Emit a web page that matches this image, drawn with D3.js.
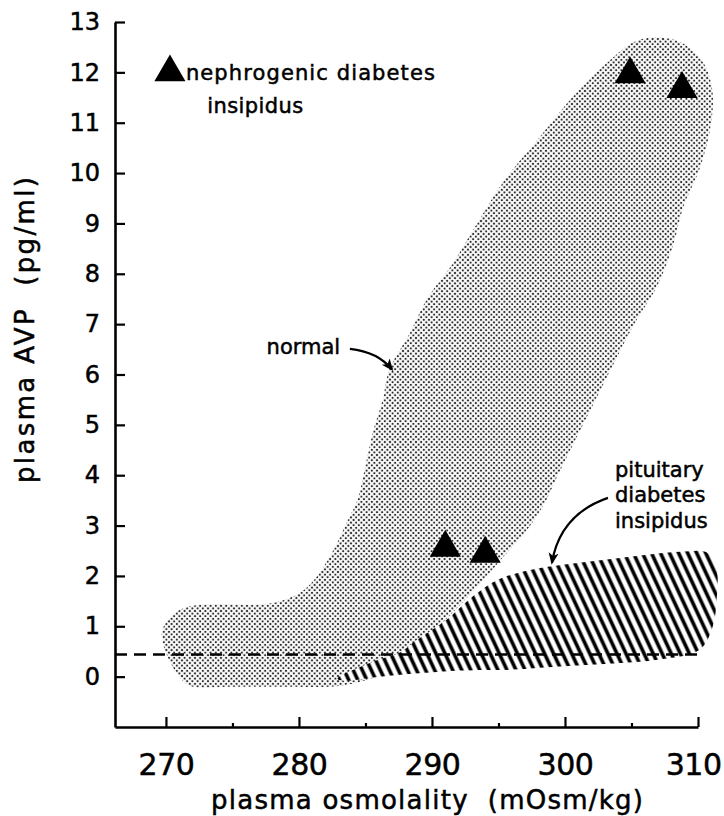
<!DOCTYPE html>
<html>
<head>
<meta charset="utf-8">
<script src="https://cdn.jsdelivr.net/npm/d3@7"></script>
<style>
body { margin: 0; background: #fff; }
svg text { font-family: "DejaVu Sans", sans-serif; fill: #000; stroke: #000; stroke-width: 0.5px; }
</style>
</head>
<body>
<div id="chart"></div>
<script>
// Tick values
var xTicks = [270, 280, 290, 300, 310];
var xMinorTicks = [275, 285, 295, 305];
var yTicks = [0, 1, 2, 3, 4, 5, 6, 7, 8, 9, 10, 11, 12, 13];

// Outline of the normal range (osmolality, AVP)
var normalRegion = [
  [305.6, 12.65], [308.6, 12.61], [310.4, 12.19], [311.1, 11.60], [310.9, 10.86],
  [310.1, 10.07], [308.9, 9.33], [308.1, 8.54], [306.9, 7.74], [305.4, 7.09],
  [303.8, 6.29], [302.3, 5.50], [300.8, 4.71], [299.3, 3.91], [298.5, 3.46],
  [297.0, 2.86], [295.5, 2.42], [294.1, 1.99], [291.4, 1.23], [288.7, 0.54],
  [286.1, 0.04], [283.1, -0.18], [279.3, -0.20], [274.8, -0.20], [271.8, -0.18],
  [270.9, 0.04], [269.9, 0.54], [269.7, 0.89], [270.15, 1.13], [271.05, 1.33],
  [272.6, 1.43], [276.3, 1.43], [278.2, 1.47], [280.1, 1.67], [281.35, 1.99],
  [282.3, 2.38], [283.1, 2.78], [283.7, 3.12], [284.4, 3.51], [285.1, 4.31],
  [285.6, 4.90], [286.3, 5.50], [286.8, 6.10], [288.35, 6.83], [289.6, 7.49],
  [291.5, 8.18], [293.46, 9.03], [295.49, 9.87], [298.12, 10.72], [300.6, 11.52],
  [303.16, 12.19]
];

// Outline of pituitary diabetes insipidus
var pituitaryRegion = [
  [282.9, -0.04], [285.6, 0.30], [287.6, 0.48], [288.6, 0.68], [291.1, 1.13],
  [293.2, 1.62], [295.0, 1.93], [297.4, 2.12], [301.1, 2.26], [304.9, 2.38],
  [308.65, 2.48], [310.7, 2.46], [311.4, 2.12], [311.4, 1.53], [311.1, 0.99],
  [310.15, 0.54], [307.1, 0.34], [303.6, 0.26], [299.6, 0.20], [296.1, 0.14],
  [292.1, 0.12], [286.1, 0.00], [283.5, -0.08]
];

// Nephrogenic diabetes insipidus patients
var nephrogenic = [[291.0, 2.56], [294.0, 2.44], [304.9, 11.96], [308.8, 11.67]];
var legendPoint = [270.3, 12.0];

// Detection limit
var detectionLimit = 0.44;

var W = 724, H = 816;

var x = d3.scaleLinear().domain([266.17, 310]).range([115, 698]);
var y = d3.scaleLinear().domain([-1, 13]).range([727, 22]);

var svg = d3.select("#chart").append("svg")
  .attr("width", W)
  .attr("height", H);

var defs = svg.append("defs");

// stipple pattern
var dots = defs.append("pattern")
  .attr("id", "stipple")
  .attr("patternUnits", "userSpaceOnUse")
  .attr("width", 5.2)
  .attr("height", 5.2);
[[0, 0], [5.2, 0], [0, 5.2], [5.2, 5.2], [2.6, 2.6]].forEach(function(p) {
  dots.append("circle")
    .attr("cx", p[0]).attr("cy", p[1])
    .attr("r", 1.12)
    .attr("fill", "#2a2a2a");
});

// hatch pattern
var hatch = defs.append("pattern")
  .attr("id", "hatch")
  .attr("patternUnits", "userSpaceOnUse")
  .attr("width", 8.2)
  .attr("height", 8.2)
  .attr("patternTransform", "rotate(-25)");
hatch.append("rect").attr("width", 8.2).attr("height", 8.2).attr("fill", "#fff");
hatch.append("line")
  .attr("x1", 4.1).attr("y1", -1).attr("x2", 4.1).attr("y2", 9.2)
  .attr("stroke", "#000").attr("stroke-width", 3.6);

// arrowhead
defs.append("marker")
  .attr("id", "arrow")
  .attr("markerUnits", "userSpaceOnUse")
  .attr("viewBox", "0 0 12 12")
  .attr("refX", 10).attr("refY", 6)
  .attr("markerWidth", 12).attr("markerHeight", 12)
  .attr("orient", "auto")
  .append("path")
  .attr("d", "M0,1L12,6L0,11L3,6Z")
  .attr("fill", "#000");

var area = d3.line()
  .x(function(d) { return x(d[0]); })
  .y(function(d) { return y(d[1]); })
  .curve(d3.curveCatmullRomClosed.alpha(0.5));

// normal range
svg.append("path")
  .attr("d", area(normalRegion))
  .attr("fill", "url(#stipple)");

// pituitary DI
svg.append("path")
  .attr("d", area(pituitaryRegion))
  .attr("fill", "url(#hatch)");

// dashed detection line
svg.append("line")
  .attr("x1", x(266.17)).attr("x2", x(310.1))
  .attr("y1", y(detectionLimit)).attr("y2", y(detectionLimit))
  .attr("stroke", "#000")
  .attr("stroke-width", 2.4)
  .attr("stroke-dasharray", "12,7");

// triangles
var tri = d3.symbol().type(d3.symbolTriangle).size(420);
svg.selectAll(".tri")
  .data(nephrogenic)
  .enter().append("path")
  .attr("class", "tri")
  .attr("d", tri)
  .attr("transform", function(d) { return "translate(" + x(d[0]) + "," + y(d[1]) + ")"; })
  .attr("fill", "#000");

// Axes
var xAxis = svg.append("g")
  .attr("transform", "translate(0," + y(-1) + ")")
  .call(d3.axisBottom(x).tickValues(xTicks).tickSize(-10).tickSizeOuter(0).tickPadding(27));
svg.append("g")
  .attr("transform", "translate(0," + y(-1) + ")")
  .call(d3.axisBottom(x).tickValues(xMinorTicks).tickSize(-4).tickSizeOuter(0).tickFormat(""))
  .select(".domain").remove();
var yAxis = svg.append("g")
  .attr("transform", "translate(" + x(266.17) + ",0)")
  .call(d3.axisLeft(y).tickValues(yTicks).tickSize(-10).tickSizeOuter(0).tickPadding(15));

svg.selectAll(".domain").attr("stroke-width", 2.6);
svg.selectAll(".tick line").attr("stroke-width", 2.2);
xAxis.selectAll("text").attr("font-size", 30).attr("letter-spacing", -0.5).style("font-family", "DejaVu Sans");
// last label sits against the right edge
xAxis.selectAll("text").filter(function(d) { return d === 310; })
  .attr("text-anchor", "end").attr("dx", 23);
yAxis.selectAll("text").attr("font-size", 24).style("font-family", "DejaVu Sans");

// axis titles
svg.append("text")
  .attr("x", 427).attr("y", 809)
  .attr("text-anchor", "middle")
  .attr("font-size", 26)
  .attr("textLength", 432)
  .attr("lengthAdjust", "spacing")
  .style("white-space", "pre")
  .text("plasma osmolality  (mOsm/kg)");

svg.append("text")
  .attr("transform", "translate(34,330) rotate(-90)")
  .attr("text-anchor", "middle")
  .attr("font-size", 26)
  .attr("textLength", 306)
  .attr("lengthAdjust", "spacing")
  .style("white-space", "pre")
  .text("plasma AVP  (pg/ml)");

// legend
svg.append("path")
  .attr("d", tri)
  .attr("transform", "translate(" + x(legendPoint[0]) + "," + y(legendPoint[1]) + ")")
  .attr("fill", "#000");
svg.append("text")
  .attr("x", x(271.5)).attr("y", y(11.85))
  .attr("font-size", 21)
  .attr("textLength", 249)
  .attr("lengthAdjust", "spacing")
  .text("nephrogenic diabetes");
svg.append("text")
  .attr("x", x(273.1)).attr("y", y(11.19))
  .attr("font-size", 21)
  .attr("textLength", 96)
  .attr("lengthAdjust", "spacing")
  .text("insipidus");

// "normal" label and arrow
svg.append("text")
  .attr("x", x(283.1)).attr("y", y(6.41))
  .attr("text-anchor", "end")
  .attr("font-size", 21)
  .text("normal");
svg.append("path")
  .attr("d", "M" + x(283.83) + "," + y(6.51) + "Q" + x(285.94) + "," + y(6.45) + " " + x(286.99) + "," + y(6.10))
  .attr("fill", "none")
  .attr("stroke", "#000")
  .attr("stroke-width", 2.2)
  .attr("marker-end", "url(#arrow)");

// pituitary label and arrow
var pitLines = ["pituitary", "diabetes", "insipidus"];
var pitY = [3.97, 3.47, 2.96];
pitLines.forEach(function(t, i) {
  svg.append("text")
    .attr("x", x(303.76)).attr("y", y(pitY[i]))
    .attr("font-size", 21)
    .text(t);
});
svg.append("path")
  .attr("d", "M" + x(303.23) + "," + y(3.55) + "Q" + x(299.62) + "," + y(3.22) + " " + x(299.02) + "," + y(2.26))
  .attr("fill", "none")
  .attr("stroke", "#000")
  .attr("stroke-width", 2.2)
  .attr("marker-end", "url(#arrow)");
</script>
</body>
</html>
